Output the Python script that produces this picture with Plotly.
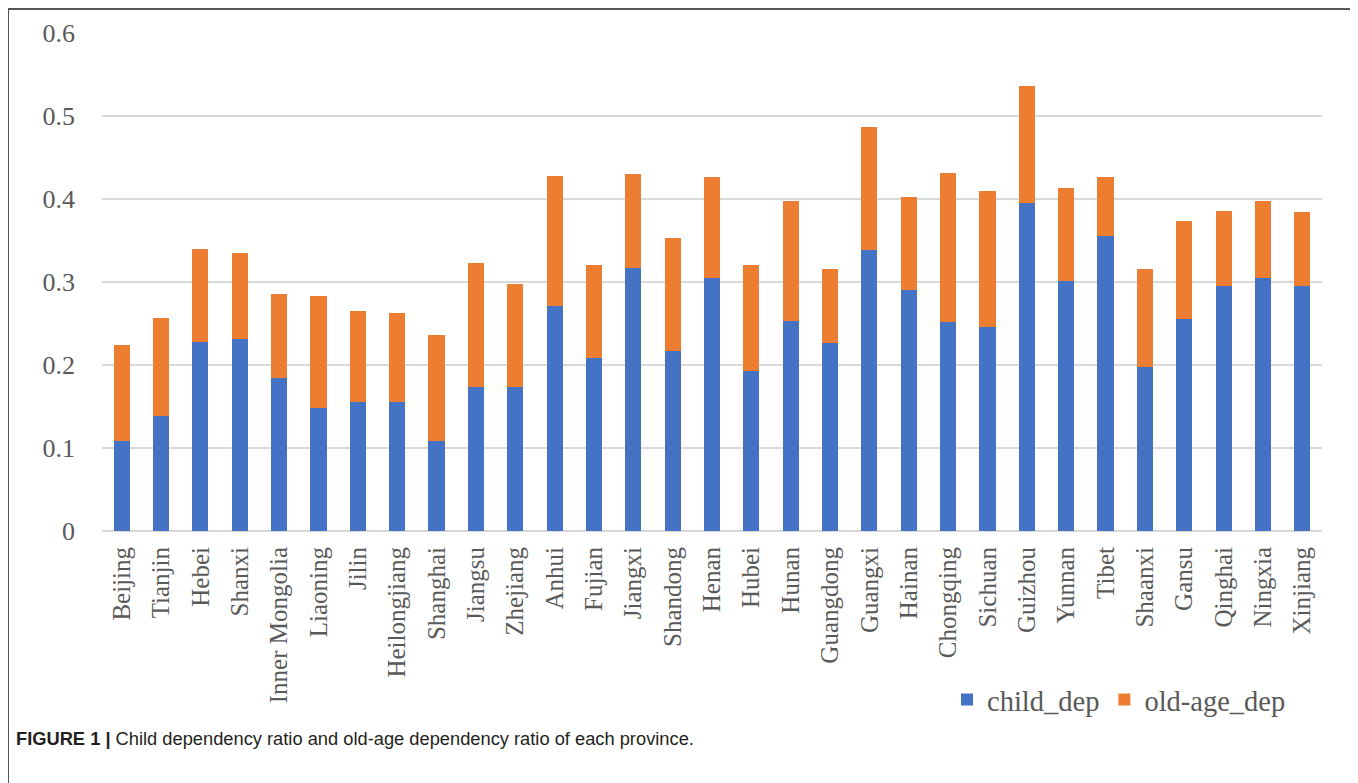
import plotly.graph_objects as go

provinces = ["Beijing", "Tianjin", "Hebei", "Shanxi", "Inner Mongolia", "Liaoning", "Jilin",
             "Heilongjiang", "Shanghai", "Jiangsu", "Zhejiang", "Anhui", "Fujian", "Jiangxi",
             "Shandong", "Henan", "Hubei", "Hunan", "Guangdong", "Guangxi", "Hainan",
             "Chongqing", "Sichuan", "Guizhou", "Yunnan", "Tibet", "Shaanxi", "Gansu",
             "Qinghai", "Ningxia", "Xinjiang"]

child_dep = [0.108, 0.138, 0.228, 0.231, 0.184, 0.148, 0.155, 0.155, 0.109, 0.174,
             0.174, 0.271, 0.209, 0.317, 0.217, 0.305, 0.193, 0.253, 0.226, 0.339,
             0.290, 0.252, 0.246, 0.395, 0.301, 0.355, 0.198, 0.256, 0.295, 0.305, 0.295]

old_age_dep = [0.116, 0.119, 0.112, 0.104, 0.101, 0.135, 0.110, 0.108, 0.127, 0.149,
               0.123, 0.157, 0.111, 0.113, 0.136, 0.121, 0.128, 0.145, 0.090, 0.148,
               0.113, 0.179, 0.164, 0.141, 0.112, 0.072, 0.118, 0.117, 0.090, 0.093, 0.089]

y_ticks = [0, 0.1, 0.2, 0.3, 0.4, 0.5, 0.6]
y_tick_labels = ["0", "0.1", "0.2", "0.3", "0.4", "0.5", "0.6"]

# the page body adds an 8px offset; layout numbers below are in screen pixels
OFF = 8
W, H = 1358, 783
L, R, T, B = 102 - OFF, W + OFF - 1322, 33 - OFF, H + OFF - 531
pw, ph = W - L - R, H - T - B

def px_x(x):
    return (x - OFF - L) / pw

def px_y(y):
    return (H - B - (y - OFF)) / ph

serif = "Liberation Serif, Times New Roman, serif"
gray = "#595959"

fig = go.Figure()
fig.add_trace(go.Bar(x=provinces, y=child_dep, name="child_dep", marker_color="#4472C4",
                     marker_line_width=0))
fig.add_trace(go.Bar(x=provinces, y=old_age_dep, name="old-age_dep", marker_color="#ED7D31",
                     marker_line_width=0))

fig.update_layout(
    width=W, height=H,
    margin=dict(l=L, r=R, t=T, b=B, autoexpand=False),
    barmode="stack",
    bargap=0.59,
    plot_bgcolor="white",
    paper_bgcolor="white",
    font=dict(family=serif, color=gray, size=25),
    showlegend=True,
    legend=dict(orientation="h", x=px_x(947), y=px_y(700), xanchor="left", yanchor="middle",
                font=dict(family=serif, size=28.5, color=gray), itemwidth=30,
                bgcolor="rgba(0,0,0,0)", traceorder="normal"),
    xaxis=dict(tickangle=-90, showgrid=False, showline=False, ticks="",
               tickfont=dict(family=serif, size=25, color=gray), ticklabelstandoff=10),
    yaxis=dict(range=[0, 0.6], tickvals=y_ticks, ticktext=y_tick_labels,
               showgrid=True, gridcolor="#D9D9D9", gridwidth=2,
               zeroline=True, zerolinecolor="#D9D9D9", zerolinewidth=2,
               showline=False, ticks="",
               tickfont=dict(family=serif, size=26, color=gray), ticklabelstandoff=26),
)

fig.add_shape(type="rect", xref="paper", yref="paper",
              x0=px_x(8), x1=px_x(1355), y0=px_y(810), y1=px_y(9),
              line=dict(color="#555555", width=2), fillcolor="rgba(0,0,0,0)", layer="above")

fig.add_annotation(xref="paper", yref="paper", x=px_x(14), y=px_y(738),
                   xanchor="left", yanchor="middle", showarrow=False,
                   text="<b>FIGURE 1 |</b> Child dependency ratio and old-age dependency ratio of each province.",
                   font=dict(family="Liberation Sans, Arial, sans-serif", size=18.3, color="#231F20"))

fig.write_html("out.html")
